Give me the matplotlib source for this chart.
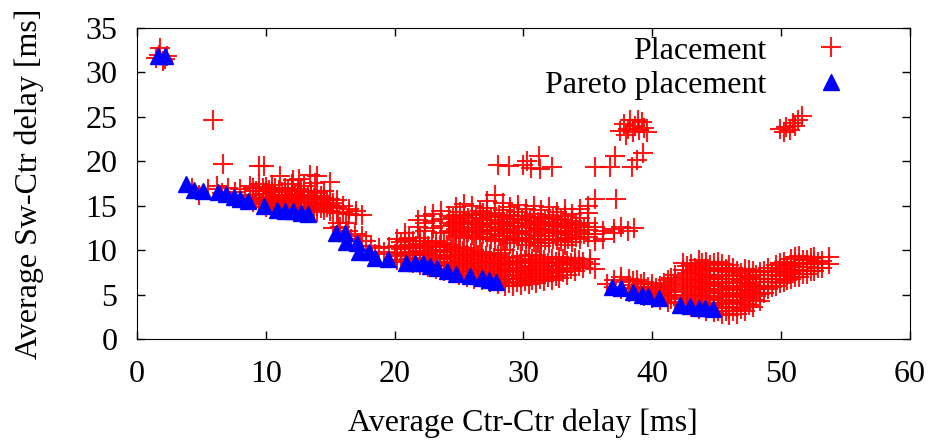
import matplotlib
matplotlib.use("Agg")
import matplotlib.pyplot as plt

plt.rcParams['font.family'] = ['Liberation Serif', 'DejaVu Serif']
plt.rcParams['font.size'] = 23

# -------------------------------------------------
# Pareto placement (blue triangles)
# -------------------------------------------------
pareto_x = [1.6, 2.2, 3.8, 4.45, 5.15, 6.27, 6.9, 7.5, 8.0, 8.6, 9.9, 10.9,
            11.5, 12.1, 12.7, 13.3, 15.45, 16.15, 16.2, 17.05, 17.2, 18.0,
            18.5, 19.5, 20.9, 21.6, 22.2, 22.75, 23.3, 24.05, 24.8, 25.85,
            26.8, 27.3, 27.9, 36.9, 37.6, 38.5, 39.2, 39.7, 40.5, 42.2, 42.9,
            43.6, 44.1, 44.7]
pareto_y = [31.9, 31.9, 17.5, 16.8, 16.7, 16.5, 16.3, 16.0, 15.75, 15.5, 15.0,
            14.5, 14.4, 14.4, 14.2, 14.1, 11.9, 11.9, 10.9, 10.8, 9.8, 9.8,
            9.1, 9.0, 8.6, 8.6, 8.5, 8.2, 8.0, 7.6, 7.3, 7.1, 6.85, 6.65, 6.45,
            5.9, 5.7, 5.3, 5.0, 4.85, 4.6, 3.8, 3.7, 3.45, 3.45, 3.35]

# -------------------------------------------------
# Placement (red crosses), one list of (x, [y...]) per cluster
# -------------------------------------------------
top_left = [(1.5, [31.6]), (1.7, [32.0]), (1.8, [32.8]), (2.0, [31.3]),
            (2.2, [31.5]), (2.3, [31.9])]

outliers = [(5.9, [24.6]), (6.7, [19.7]), (9.5, [19.5]), (9.9, [19.5]),
            (11.1, [18.4]), (12.1, [17.9]), (12.6, [18.0]), (13.4, [18.5]),
            (13.8, [17.6]), (14.0, [18.3]), (15.0, [17.7]),
            (28.0, [19.6]), (28.9, [19.5]), (30.0, [19.6]), (30.3, [20.0]),
            (30.6, [19.2]), (31.2, [20.6]), (31.3, [19.1]), (32.2, [19.4]),
            (35.6, [19.4]), (36.7, [19.4]), (37.1, [20.6]), (38.4, [19.4]),
            (38.8, [20.2]), (39.3, [20.9]), (37.2, [15.7]), (27.8, [16.2])]

top_mid = [(37.5, [23.4]), (37.8, [24.2]), (38.0, [23.0]), (38.1, [23.6]),
           (38.3, [24.6]), (38.5, [23.3]), (38.7, [24.0]), (38.9, [24.7]),
           (39.0, [23.5]), (39.2, [24.4]), (39.4, [23.7]), (39.6, [23.3])]

top_right = [(49.9, [23.6]), (50.2, [23.3]), (50.4, [23.9]), (50.7, [23.5]),
             (50.95, [24.3]), (51.1, [24.0]), (51.3, [24.7]), (51.6, [25.1])]

band1 = [(4.3, [17.0]), (4.8, [16.2]), (5.5, [16.9]), (6.2, [17.2]),
         (6.6, [16.4]), (7.1, [17.0]), (7.6, [16.5]), (8.0, [16.9]),
         (8.4, [16.0]), (8.8, [17.2]),
         (9.0, [15.4, 16.2, 17.0]), (9.5, [15.2, 15.9, 16.6, 17.4]),
         (10.0, [14.9, 15.6, 16.3, 17.1]), (10.5, [15.1, 15.8, 16.5, 17.3]),
         (11.0, [14.6, 15.3, 16.0, 16.8]), (11.5, [14.8, 15.5, 16.2, 17.0]),
         (12.0, [14.5, 15.2, 15.9, 16.7, 17.4]),
         (12.5, [14.7, 15.4, 16.1, 16.9]),
         (13.0, [14.4, 15.0, 15.8, 16.5, 17.2]),
         (13.5, [14.6, 15.3, 16.0, 16.7]), (14.0, [14.3, 15.0, 15.7, 16.4]),
         (14.5, [14.5, 15.2, 15.9, 16.6]), (15.0, [14.4, 15.1, 15.8]),
         (15.5, [14.2, 14.9, 15.6]), (16.0, [14.3, 15.0]),
         (16.5, [14.1, 14.6]), (17.0, [13.9, 14.4]), (17.5, [14.0])]

band1_fill = [(9.25, [15.8, 16.6]), (9.75, [15.5, 16.3, 17.0]),
              (10.25, [15.3, 16.0, 16.8]), (10.75, [14.8, 15.5, 16.2, 17.0]),
              (11.25, [15.0, 15.7, 16.5]), (11.75, [14.7, 15.4, 16.1, 16.9]),
              (12.25, [14.9, 15.6, 16.3]), (12.75, [14.6, 15.3, 16.0, 16.7]),
              (13.25, [14.8, 15.5, 16.2]), (13.75, [14.5, 15.2, 15.9]),
              (14.25, [14.7, 15.4, 16.1]), (14.75, [14.9, 15.6]),
              (15.25, [14.7, 15.3])]

band2_left = [(15.2, [12.5]), (15.6, [13.0]), (15.8, [12.6]), (16.2, [13.1]),
              (16.4, [12.2]), (16.6, [11.3]), (16.9, [11.8]), (17.3, [10.5]),
              (17.5, [11.6]), (17.8, [11.0]), (18.2, [10.5]), (18.5, [9.6]),
              (18.8, [10.2]), (19.2, [9.8]), (19.6, [10.3]), (20.0, [9.6])]

band2 = [(20.2, [8.9, 9.7, 10.5, 11.3]), (20.8, [8.7, 9.5, 10.3, 11.1, 11.9]),
         (21.4, [8.6, 9.4, 10.2, 11.0]), (22.0, [8.3, 9.1, 9.9, 10.7, 11.4]),
         (22.6, [8.1, 8.9, 9.7, 10.5]), (23.2, [7.9, 8.7, 9.5, 10.3, 11.0]),
         (23.8, [7.6, 8.4, 9.2, 10.0, 10.8]),
         (24.4, [7.4, 8.2, 9.0, 9.8, 10.6]),
         (25.0, [7.2, 8.0, 8.8, 9.6, 10.4]),
         (25.6, [7.0, 7.8, 8.6, 9.4, 10.2]),
         (26.2, [6.8, 7.6, 8.4, 9.2, 10.0]),
         (26.8, [6.6, 7.4, 8.2, 9.0, 9.8]),
         (27.4, [6.4, 7.2, 8.0, 8.8, 9.6]),
         (28.0, [6.2, 7.0, 7.8, 8.6, 9.4]),
         (28.6, [6.0, 6.8, 7.6, 8.4, 9.2, 10.0]),
         (29.2, [6.0, 6.7, 7.5, 8.3, 9.1]), (29.8, [6.1, 6.9, 7.7, 8.5, 9.3]),
         (30.4, [6.2, 7.0, 7.8, 8.6, 9.4]), (31.0, [6.3, 7.1, 7.9, 8.7, 9.5]),
         (31.6, [6.5, 7.3, 8.1, 8.9]), (32.2, [6.6, 7.4, 8.2, 9.0]),
         (32.8, [6.9, 7.7, 8.5, 9.2]), (33.4, [7.2, 8.0, 8.8]),
         (34.0, [7.6, 8.4, 9.1]), (34.6, [8.0, 8.7]), (35.2, [8.4, 9.0]),
         (35.6, [7.9])]

band2_fill = [(20.5, [9.3, 10.1, 10.9]), (21.1, [9.0, 9.8, 10.6, 11.4]),
              (21.7, [8.9, 9.7, 10.5]), (22.3, [8.6, 9.4, 10.2, 11.0]),
              (22.9, [8.4, 9.2, 10.0, 10.8]), (23.5, [8.2, 9.0, 9.8, 10.6]),
              (24.1, [7.9, 8.7, 9.5, 10.3]), (24.7, [7.7, 8.5, 9.3, 10.1]),
              (25.3, [7.5, 8.3, 9.1, 9.9]), (25.9, [7.3, 8.1, 8.9, 9.7]),
              (26.5, [7.1, 7.9, 8.7, 9.5]), (27.1, [6.9, 7.7, 8.5, 9.3]),
              (27.7, [6.7, 7.5, 8.3, 9.1]), (28.3, [6.5, 7.3, 8.1, 8.9, 9.7]),
              (28.9, [6.3, 7.1, 7.9, 8.7]), (29.5, [6.4, 7.2, 8.0, 8.8]),
              (30.1, [6.5, 7.3, 8.1, 8.9]), (30.7, [6.6, 7.4, 8.2, 9.0]),
              (31.3, [6.8, 7.6, 8.4, 9.2]), (31.9, [7.0, 7.8, 8.6]),
              (32.5, [7.1, 7.9, 8.7]), (33.1, [7.5, 8.3, 9.0]),
              (33.7, [7.9, 8.6]), (34.3, [8.2, 8.9])]

band3 = [(21.8, [12.6, 13.4]), (22.4, [12.2, 13.0, 13.8]),
         (23.0, [12.5, 13.3, 14.1]), (23.6, [11.9, 12.7, 13.5, 14.4]),
         (24.2, [12.2, 13.0, 13.8]), (24.8, [11.6, 12.4, 13.2, 14.0, 14.8]),
         (25.4, [11.4, 12.2, 13.0, 13.8, 15.2]),
         (26.0, [11.7, 12.5, 13.3, 14.1, 15.0]),
         (26.6, [11.2, 12.0, 12.8, 13.6, 14.4]),
         (27.2, [11.5, 12.3, 13.1, 13.9, 14.7, 15.5]),
         (27.8, [11.0, 11.8, 12.6, 13.4, 14.2]),
         (28.4, [11.3, 12.1, 12.9, 13.7, 14.5, 15.3]),
         (29.0, [10.8, 11.6, 12.4, 13.2, 14.0, 14.9]),
         (29.6, [11.1, 11.9, 12.7, 13.5, 14.3, 15.1]),
         (30.2, [10.6, 11.4, 12.2, 13.0, 13.8, 14.6]),
         (30.8, [10.9, 11.7, 12.5, 13.3, 14.1, 15.0]),
         (31.4, [10.5, 11.3, 12.1, 12.9, 13.7, 14.5]),
         (32.0, [10.8, 11.6, 12.4, 13.2, 14.0, 14.9]),
         (32.6, [11.1, 11.9, 12.7, 13.5, 14.3]),
         (33.2, [10.6, 11.4, 12.2, 13.0, 13.8, 14.6]),
         (33.8, [10.9, 11.7, 12.5, 13.3, 14.1]),
         (34.4, [11.2, 12.0, 12.8, 13.6, 14.6]),
         (35.0, [11.5, 12.3, 13.1, 14.2, 15.0]),
         (35.6, [11.0, 11.8, 12.6, 15.7]), (36.2, [11.3, 12.2]),
         (37.0, [11.9, 12.4]), (37.6, [12.6]), (38.1, [12.1]), (38.6, [12.5])]

band3_fill = [(24.5, [12.0, 12.8, 13.6]), (25.1, [11.8, 12.6, 13.4, 14.3]),
              (25.7, [12.0, 12.9, 13.6]), (26.3, [11.5, 12.3, 13.1, 13.9]),
              (26.9, [11.8, 12.6, 13.4, 14.2]), (27.5, [11.3, 12.1, 12.9, 13.7]),
              (28.1, [11.6, 12.4, 13.2, 14.0]), (28.7, [11.1, 11.9, 12.7, 13.5]),
              (29.3, [11.4, 12.2, 13.0, 13.8]), (29.9, [11.0, 11.8, 12.6, 13.4]),
              (30.5, [11.2, 12.0, 12.8, 13.6]), (31.1, [10.8, 11.6, 12.4, 13.2]),
              (31.7, [11.1, 11.9, 12.7, 13.5]), (32.3, [11.3, 12.1, 12.9, 13.7]),
              (32.9, [11.0, 11.8, 12.6, 13.4]), (33.5, [11.2, 12.0, 12.8]),
              (34.1, [11.5, 12.3, 13.1]), (34.7, [11.8, 12.6])]

band4 = [(36.5, [6.2]), (37.0, [5.8, 6.6]), (37.6, [5.6, 6.4, 7.0]),
         (38.2, [5.3, 6.1, 6.8]), (38.8, [5.1, 5.9, 6.6]),
         (39.4, [4.8, 5.6, 6.4]), (40.0, [4.6, 5.4, 6.2]),
         (40.6, [4.4, 5.2, 6.0]), (41.2, [4.2, 5.0, 5.8, 6.6]),
         (41.8, [4.0, 4.8, 5.6, 6.4, 7.2]),
         (42.4, [3.8, 4.6, 5.4, 6.2, 7.0, 7.8, 8.6]),
         (43.0, [3.6, 4.4, 5.2, 6.0, 6.8, 7.6, 8.4]),
         (43.6, [3.4, 4.2, 5.0, 5.8, 6.6, 7.4, 8.2, 8.9]),
         (44.2, [3.2, 4.0, 4.8, 5.6, 6.4, 7.2, 8.0, 8.7]),
         (44.8, [3.0, 3.8, 4.6, 5.4, 6.2, 7.0, 7.8, 8.6]),
         (45.4, [2.8, 3.6, 4.4, 5.2, 6.0, 6.8, 7.6, 8.4]),
         (46.0, [2.7, 3.5, 4.3, 5.1, 5.9, 6.7, 7.5, 8.3]),
         (46.6, [2.8, 3.6, 4.4, 5.2, 6.0, 6.8, 7.6]),
         (47.2, [3.1, 3.9, 4.7, 5.5, 6.3, 7.1, 7.9]),
         (47.8, [3.6, 4.4, 5.2, 6.0, 6.8, 7.6]),
         (48.4, [4.3, 5.1, 5.9, 6.7, 7.5]),
         (49.0, [5.6, 6.4, 7.2, 8.0]), (49.6, [6.0, 6.8, 7.6, 8.3]),
         (50.2, [6.4, 7.2, 8.0, 8.7]), (50.8, [6.7, 7.5, 8.3, 9.0]),
         (51.4, [7.0, 7.8, 8.6, 9.3]), (52.0, [7.3, 8.1, 8.9]),
         (52.6, [7.6, 8.4, 9.2]), (53.2, [8.0, 8.8]), (53.7, [8.4, 9.2])]

band4_fill = [(38.5, [5.7, 6.5]), (39.1, [5.4, 6.2]), (39.7, [5.1, 5.9]),
              (40.3, [4.9, 5.7]), (40.9, [4.7, 5.5, 6.3]),
              (41.5, [4.5, 5.3, 6.1, 6.9]),
              (42.7, [4.2, 5.0, 5.8, 6.6, 7.4, 8.2]),
              (43.3, [4.0, 4.8, 5.6, 6.4, 7.2, 8.0]),
              (43.9, [3.8, 4.6, 5.4, 6.2, 7.0, 7.8, 8.5]),
              (44.5, [3.6, 4.4, 5.2, 6.0, 6.8, 7.6, 8.3]),
              (45.1, [3.2, 4.0, 4.8, 5.6, 6.4, 7.2, 8.0, 8.7]),
              (45.7, [3.1, 3.9, 4.7, 5.5, 6.3, 7.1, 7.9]),
              (46.3, [3.2, 4.0, 4.8, 5.6, 6.4, 7.2, 8.0]),
              (46.9, [3.4, 4.2, 5.0, 5.8, 6.6, 7.4]),
              (47.5, [3.8, 4.6, 5.4, 6.2, 7.0, 7.8]),
              (48.1, [4.8, 5.6, 6.4, 7.2]), (48.7, [5.2, 6.0, 6.8, 7.6]),
              (49.3, [5.9, 6.7, 7.5]), (49.9, [6.3, 7.1, 7.9, 8.6]),
              (50.5, [6.6, 7.4, 8.2]), (51.1, [7.0, 7.8, 8.6, 9.2]),
              (51.7, [7.3, 8.1, 8.9]), (52.3, [7.6, 8.4, 9.1]),
              (52.9, [8.0, 8.7])]

clusters = [top_left, outliers, top_mid, top_right, band1, band1_fill,
            band2_left, band2, band2_fill, band3, band3_fill, band4,
            band4_fill]

place_x = []
place_y = []
for cluster in clusters:
    for x, ys in cluster:
        for y in ys:
            place_x.append(x)
            place_y.append(y)

# -------------------------------------------------
# Figure
# -------------------------------------------------
fig = plt.figure(figsize=(9.35, 4.41), dpi=100)
ax = fig.add_axes([0.1465, 0.2313, 0.8265, 0.7052])

ax.plot(place_x, place_y, linestyle='none', marker='+', markersize=15,
        markeredgewidth=1.5, color='red', alpha=0.9, label='Placement')
ax.plot(pareto_x, pareto_y, linestyle='none', marker='^', markersize=12,
        color='blue', label='Pareto placement')

ax.set_xlim(0, 60)
ax.set_ylim(0, 35)
ax.set_xticks(range(0, 61, 10))
ax.set_yticks(range(0, 36, 5))

ax.tick_params(direction='in', length=6, width=1, top=True, right=True)
ax.tick_params(axis='x', pad=15)
ax.tick_params(axis='y', pad=14)

ax.set_xlabel("Average Ctr-Ctr delay [ms]", labelpad=14)
ax.set_ylabel("Average Sw-Ctr delay [ms]", labelpad=30)

ax.legend(loc='upper right', bbox_to_anchor=(0.943, 0.984), frameon=False,
          markerfirst=False, borderpad=0, borderaxespad=0.1,
          handlelength=2.0, handletextpad=1.0, labelspacing=0.15)

fig.savefig("out.png", dpi=100)
